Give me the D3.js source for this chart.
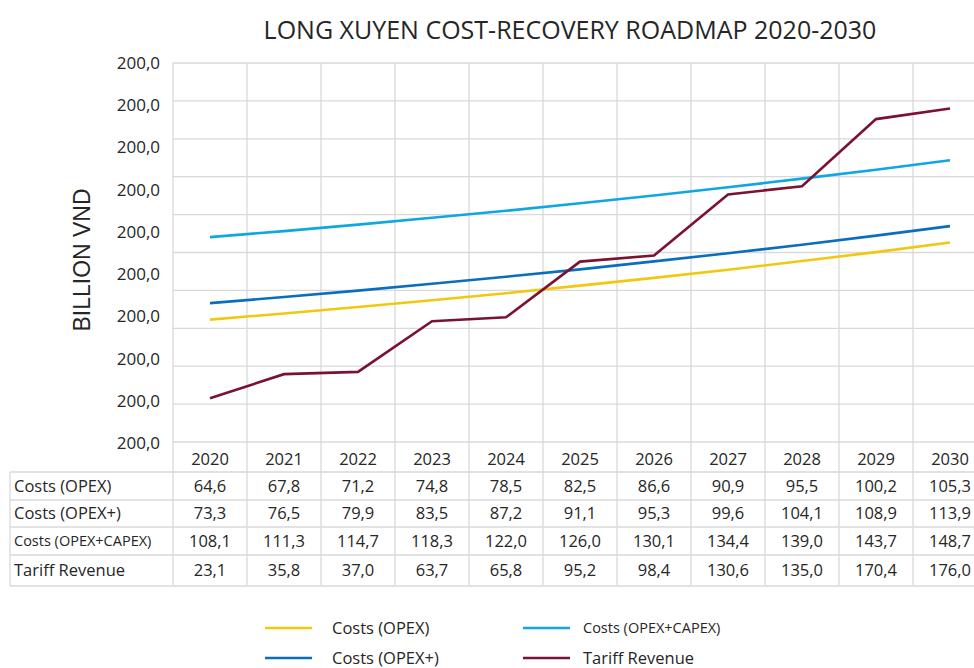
<!DOCTYPE html>
<html>
<head>
<meta charset="utf-8">
<script src="https://cdn.jsdelivr.net/npm/d3@7"></script>
<style>
  body { margin: 0; background: #fff; }
  svg text { font-family: "Open Sans", sans-serif; fill: #262626; }
</style>
</head>
<body>
<svg id="chart" width="974" height="668"></svg>
<script>
const years = ["2020", "2021", "2022", "2023", "2024", "2025", "2026", "2027", "2028", "2029", "2030"];
const opex = [64.6, 67.8, 71.2, 74.8, 78.5, 82.5, 86.6, 90.9, 95.5, 100.2, 105.3];
const opexPlus = [73.3, 76.5, 79.9, 83.5, 87.2, 91.1, 95.3, 99.6, 104.1, 108.9, 113.9];
const opexCapex = [108.1, 111.3, 114.7, 118.3, 122.0, 126.0, 130.1, 134.4, 139.0, 143.7, 148.7];
const tariff = [23.1, 35.8, 37.0, 63.7, 65.8, 95.2, 98.4, 130.6, 135.0, 170.4, 176.0];
// the source axis shows the same label on every tick
const yTickLabels = ["200,0", "200,0", "200,0", "200,0", "200,0", "200,0", "200,0", "200,0", "200,0", "200,0"];

const series = [
  { name: "Costs (OPEX)", values: opex, color: "#f2c80f", small: false },
  { name: "Costs (OPEX+)", values: opexPlus, color: "#0a6ebd", small: false },
  { name: "Costs (OPEX+CAPEX)", values: opexCapex, color: "#0ea7e2", small: true },
  { name: "Tariff Revenue", values: tariff, color: "#7a1232", small: false }
];

const svg = d3.select("#chart");
const fmt = v => d3.format(".1f")(v).replace(".", ",");

const plotLeft = 173, colW = 74, plotTop = 63, plotBottom = 442;
const x = d3.scaleBand().domain(years).range([plotLeft, plotLeft + colW * years.length]);
const y = d3.scaleLinear().domain([0, 200]).range([plotBottom, plotTop]);
const yLab = d3.scalePoint().domain(d3.range(yTickLabels.length)).range([plotBottom + 1, plotTop]);

const grid = "#d9d9d9";

// horizontal gridlines
svg.append("g").selectAll("line")
  .data(y.ticks(10))
  .enter().append("line")
  .attr("x1", plotLeft).attr("x2", x.range()[1])
  .attr("y1", d => y(d)).attr("y2", d => y(d))
  .attr("stroke", grid).attr("stroke-width", 1.3);

// vertical gridlines (plot + table)
const rowTops = [472, 500, 527, 555, 586];
svg.append("g").selectAll("line")
  .data(years.concat(["end"]))
  .enter().append("line")
  .attr("x1", (d, i) => plotLeft + i * colW).attr("x2", (d, i) => plotLeft + i * colW)
  .attr("y1", plotTop).attr("y2", rowTops[rowTops.length - 1])
  .attr("stroke", grid).attr("stroke-width", 1.3);

// table horizontal lines
svg.append("g").selectAll("line")
  .data(rowTops)
  .enter().append("line")
  .attr("x1", 10).attr("x2", x.range()[1])
  .attr("y1", d => d).attr("y2", d => d)
  .attr("stroke", grid).attr("stroke-width", 1.3);
svg.append("line")
  .attr("x1", 10).attr("x2", 10)
  .attr("y1", rowTops[0]).attr("y2", rowTops[rowTops.length - 1])
  .attr("stroke", grid).attr("stroke-width", 1.3);

// y labels
svg.append("g").selectAll("text")
  .data(yTickLabels)
  .enter().append("text")
  .attr("x", 160)
  .attr("y", (d, i) => yLab(i))
  .attr("dy", "0.35em")
  .attr("text-anchor", "end")
  .attr("font-size", "17px")
  .text(d => d);

// lines
const line = d3.line()
  .x((d, i) => x(years[i]) + x.bandwidth() / 2)
  .y(d => y(d));

svg.append("g").selectAll("path")
  .data(series)
  .enter().append("path")
  .attr("d", d => line(d.values))
  .attr("fill", "none")
  .attr("stroke", d => d.color)
  .attr("stroke-width", 2.6);

// table header
svg.append("g").selectAll("text")
  .data(years)
  .enter().append("text")
  .attr("x", d => x(d) + x.bandwidth() / 2)
  .attr("y", 459)
  .attr("dy", "0.35em")
  .attr("text-anchor", "middle")
  .attr("font-size", "16.5px")
  .text(d => d);

// table rows
series.forEach((s, r) => {
  const cy = (rowTops[r] + rowTops[r + 1]) / 2;
  svg.append("text")
    .attr("x", 14).attr("y", cy).attr("dy", "0.35em")
    .attr("font-size", s.small ? "14.5px" : "16.5px")
    .text(s.name);
  svg.append("g").selectAll("text")
    .data(s.values)
    .enter().append("text")
    .attr("x", (d, i) => x(years[i]) + x.bandwidth() / 2)
    .attr("y", cy).attr("dy", "0.35em")
    .attr("text-anchor", "middle")
    .attr("font-size", "16.5px")
    .text(d => fmt(d));
});

// title
svg.append("text")
  .attr("x", 570).attr("y", 30).attr("dy", "0.35em")
  .attr("text-anchor", "middle")
  .attr("font-size", "25px")
  .text("LONG XUYEN COST-RECOVERY ROADMAP 2020-2030");

// y axis title
svg.append("text")
  .attr("transform", "translate(82,260) rotate(-90)")
  .attr("dy", "0.35em")
  .attr("text-anchor", "middle")
  .attr("font-size", "23px")
  .style("font-family", "'Liberation Sans', Arial, sans-serif")
  .text("BILLION VND");

// legend
const legendPos = [[265, 628], [265, 658], [523, 628], [523, 658]];
const legend = svg.append("g").selectAll("g")
  .data(series)
  .enter().append("g")
  .attr("transform", (d, i) => `translate(${legendPos[i][0]},${legendPos[i][1]})`);
legend.append("line")
  .attr("x1", 0).attr("x2", 47)
  .attr("stroke", d => d.color).attr("stroke-width", 2.6);
legend.append("text")
  .attr("x", (d, i) => i < 2 ? 67 : 60)
  .attr("dy", "0.35em")
  .attr("font-size", d => d.small ? "14.5px" : "16.5px")
  .text(d => d.name);
</script>
</body>
</html>
